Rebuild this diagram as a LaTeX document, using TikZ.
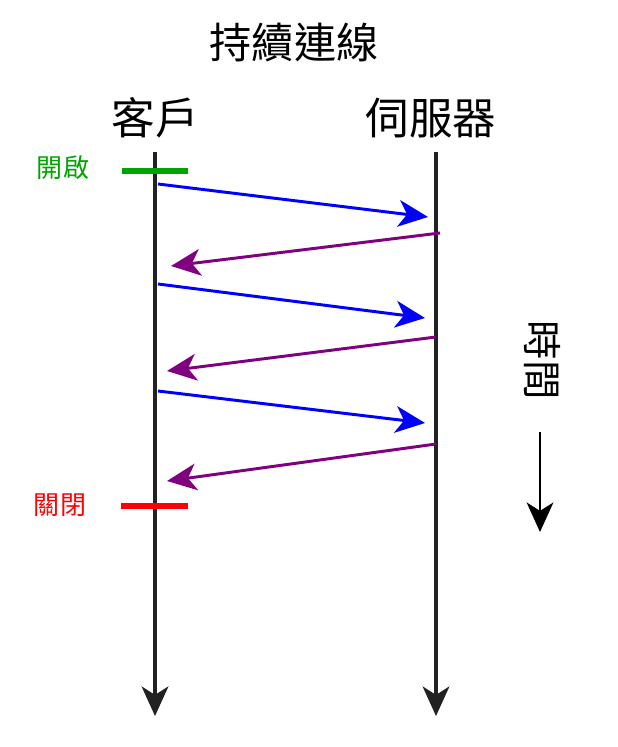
\documentclass[tikz,border=0pt]{standalone}
\usepackage{fontspec}
\setmainfont{Noto Sans CJK TC}
\usetikzlibrary{arrows.meta}
\definecolor{MsgBlue}{HTML}{0000FF}
\definecolor{MsgPurple}{HTML}{800080}
\definecolor{OpenGreen}{HTML}{00A300}
\definecolor{CloseRed}{HTML}{FF0000}
\definecolor{LifeGrey}{HTML}{222222}

\begin{document}
\begin{tikzpicture}[
  x=0.025cm,
  y=-0.025cm,
  >={Stealth[length=21pt,width=19pt,inset=6pt]},
  head/.style={font=\fontsize{31pt}{33pt}\selectfont,inner sep=0pt},
  statelabel/.style={font=\fontsize{18.5pt}{20pt}\selectfont,inner sep=0pt},
  life/.style={->,draw=LifeGrey,line width=2.2pt},
  request/.style={->,draw=MsgBlue,line width=2.1pt},
  reply/.style={->,draw=MsgPurple,line width=2.1pt},
  bar/.style={line width=3.8pt}
]
\useasboundingbox (0,0) rectangle (617,747);

\node[head,font=\fontsize{30pt}{32pt}\selectfont] (title) at (294,42) {持續連線};
\node[head] (client) at (155,118) {客戶};
\node[head] (server) at (431,118) {伺服器};

% lifelines
\coordinate (ctop) at (155,152);
\coordinate (cend) at (155,716);
\coordinate (stop) at (436,152);
\coordinate (send) at (436,716);
\draw[life] (ctop) -- (cend);
\draw[life] (stop) -- (send);

% open / close
\coordinate (openL) at (122,171);
\coordinate (openR) at (188,171);
\coordinate (closeL) at (121,506);
\coordinate (closeR) at (188,506);
\draw[bar,draw=OpenGreen] (openL) -- (openR);
\draw[bar,draw=CloseRed] (closeL) -- (closeR);
\node[statelabel,text=OpenGreen] (open) at (63,168) {開啟};
\node[statelabel,text=CloseRed] (close) at (60,505) {關閉};

% requests and replies
\coordinate (q1) at (158,184);  \coordinate (q1e) at (428,217);
\coordinate (r1) at (440,233);  \coordinate (r1e) at (171,266);
\coordinate (q2) at (158,284);  \coordinate (q2e) at (425,318);
\coordinate (r2) at (436,337);  \coordinate (r2e) at (167,371);
\coordinate (q3) at (158,391);  \coordinate (q3e) at (425,423);
\coordinate (r3) at (436,444);  \coordinate (r3e) at (167,481);
\draw[request] (q1) -- (q1e);
\draw[reply] (r1) -- (r1e);
\draw[request] (q2) -- (q2e);
\draw[reply] (r2) -- (r2e);
\draw[request] (q3) -- (q3e);
\draw[reply] (r3) -- (r3e);

% time
\node[head,rotate=-90,font=\fontsize{28pt}{30pt}\selectfont] (time) at (542,360) {時間};
\coordinate (ttop) at (540,432);
\coordinate (tend) at (540,532);
\draw[->,draw=black,line width=1.6pt] (ttop) -- (tend);
\end{tikzpicture}
\end{document}
